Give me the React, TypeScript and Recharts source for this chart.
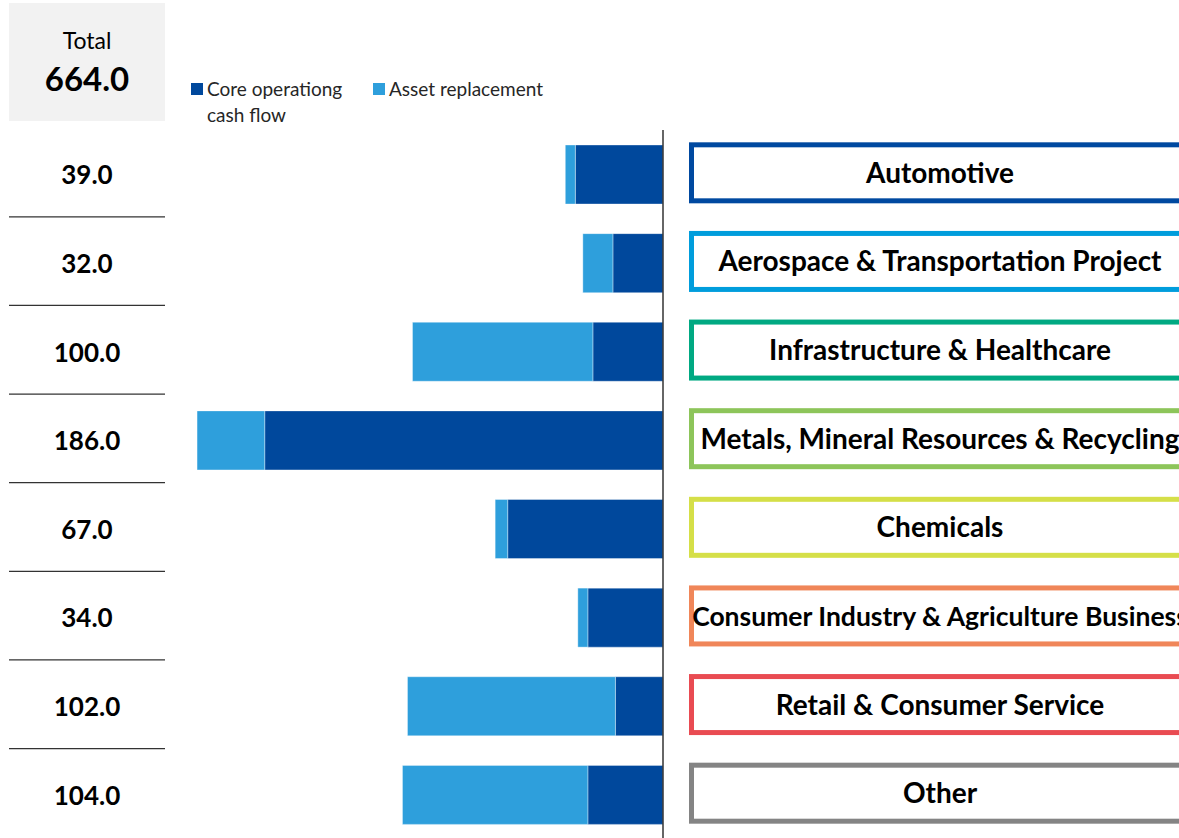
import React from "react"
import { BarChart, Bar, XAxis, YAxis, Legend } from "recharts"

// segment data
const categories = [
  "Automotive",
  "Aerospace & Transportation Project",
  "Infrastructure & Healthcare",
  "Metals, Mineral Resources & Recycling",
  "Chemicals",
  "Consumer Industry & Agriculture Business",
  "Retail & Consumer Service",
  "Other",
]
const coreCashFlow = [35, 20, 28, 159, 62, 30, 19, 30]
const assetReplacement = [4, 12, 72, 27, 5, 4, 83, 74]
const segmentColors = [
  "#0049a0",
  "#009ddc",
  "#00a982",
  "#8dc55a",
  "#d5df48",
  "#f08659",
  "#e94b52",
  "#848484",
]
const seriesNames = ["Core operationg cash flow", "Asset replacement"]
const seriesColors = ["#00489c", "#2e9fdc"]

const rows = categories.map((name, i) => ({
  name,
  core: coreCashFlow[i],
  asset: assetReplacement[i],
  total: coreCashFlow[i] + assetReplacement[i],
}))
const grandTotal = rows.reduce((s, r) => s + r.total, 0)

const FONT = "Lato, 'Open Sans', sans-serif"

function TotalTick(props: any) {
  const { y, payload } = props
  const i = categories.indexOf(payload.value)
  const isLast = i === categories.length - 1
  return (
    <g>
      <text
        x={87}
        y={y + 10}
        textAnchor="middle"
        fontFamily={FONT}
        fontWeight={700}
        fontSize={26}
        fill="#000"
      >
        {rows[i].total.toFixed(1)}
      </text>
      {!isLast && (
        <line x1={9} x2={165} y1={y + 42.5} y2={y + 42.5} stroke="#333" strokeWidth={1.2} />
      )}
    </g>
  )
}

function SegmentTick(props: any) {
  const { y, payload } = props
  const i = categories.indexOf(payload.value)
  const cy = y - 1.5
  // the longest label is set a bit smaller, as in the source slide
  const size = payload.value.length > 38 ? 26.5 : 28
  return (
    <g>
      <rect
        x={691.5}
        y={cy - 28}
        width={620}
        height={56}
        fill="#fff"
        stroke={segmentColors[i]}
        strokeWidth={5}
      />
      <text
        x={940}
        y={cy + 10}
        textAnchor="middle"
        fontFamily={FONT}
        fontWeight={700}
        fontSize={size}
        fill="#000"
      >
        {payload.value}
      </text>
    </g>
  )
}

function renderLegend(props: any) {
  const items = [...(props.payload || [])].sort(
    (a: any, b: any) => seriesNames.indexOf(a.value) - seriesNames.indexOf(b.value)
  )
  return (
    <div style={{ display: "flex", fontFamily: FONT, fontSize: 19, color: "#262626", lineHeight: "26px" }}>
      {items.map((entry: any, idx: number) => (
        <div
          key={entry.value}
          style={{ display: "flex", alignItems: "flex-start", width: idx === 0 ? 182 : 200 }}
        >
          <span
            style={{
              display: "inline-block",
              width: 12,
              height: 12,
              marginTop: 7,
              marginRight: 4,
              background: entry.color,
              flex: "none",
            }}
          />
          <span style={{ maxWidth: idx === 0 ? 148 : 190, whiteSpace: idx === 0 ? "normal" : "nowrap" }}>
            {entry.value}
          </span>
        </div>
      ))}
    </div>
  )
}

export default function App() {
  return (
    <div
      style={{
        position: "absolute",
        left: 0,
        top: 0,
        width: 1179,
        height: 838,
        overflow: "hidden",
        background: "#fff",
      }}
    >
      <div
        style={{
          position: "absolute",
          left: 9,
          top: 3,
          width: 156,
          height: 118,
          background: "#f2f2f2",
          fontFamily: FONT,
          textAlign: "center",
          color: "#000",
        }}
      >
        <div style={{ fontSize: 23, marginTop: 23, lineHeight: "28px" }}>Total</div>
        <div style={{ fontSize: 33, fontWeight: 700, lineHeight: "38px", marginTop: 5 }}>
          {grandTotal.toFixed(1)}
        </div>
      </div>
      <BarChart
        width={1179}
        height={840}
        data={rows}
        layout="vertical"
        margin={{ top: 130, right: 0, bottom: 1, left: 0 }}
        barSize={59}
      >
        <XAxis type="number" domain={[0, 200]} reversed hide />
        <YAxis
          yAxisId="total"
          type="category"
          dataKey="name"
          orientation="left"
          width={162}
          axisLine={false}
          tickLine={false}
          interval={0}
          tick={<TotalTick />}
        />
        <YAxis
          yAxisId="seg"
          type="category"
          dataKey="name"
          orientation="right"
          width={516}
          axisLine={{ stroke: "#333", strokeWidth: 1.5 }}
          tickLine={false}
          interval={0}
          tick={<SegmentTick />}
        />
        <Legend
          layout="horizontal"
          verticalAlign="middle"
          align="center"
          content={renderLegend}
          wrapperStyle={{ position: "absolute", left: 191, top: 76, width: 420 }}
        />
        <Bar
          yAxisId="seg"
          dataKey="core"
          name={seriesNames[0]}
          stackId="cf"
          fill={seriesColors[0]}
          stroke="#ffffff"
          strokeOpacity={0.35}
          strokeWidth={1}
          isAnimationActive={false}
        />
        <Bar
          yAxisId="seg"
          dataKey="asset"
          name={seriesNames[1]}
          stackId="cf"
          fill={seriesColors[1]}
          stroke="#ffffff"
          strokeOpacity={0.35}
          strokeWidth={1}
          isAnimationActive={false}
        />
      </BarChart>
    </div>
  )
}
